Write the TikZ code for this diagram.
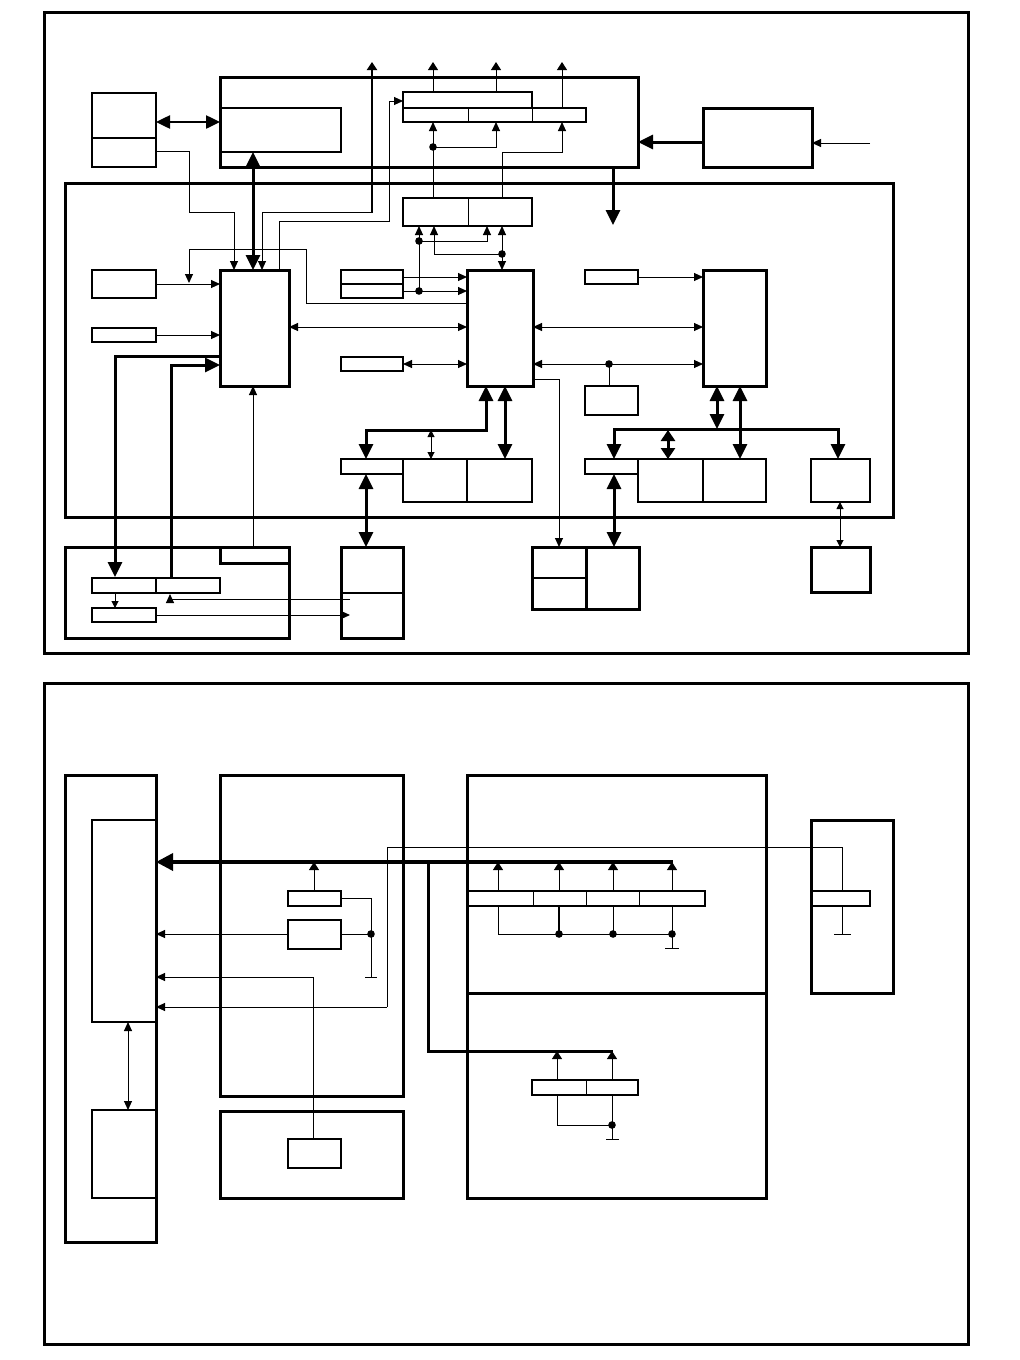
\documentclass[tikz,border=0pt]{standalone}
\usetikzlibrary{arrows.meta,fit}
\tikzset{
  thk/.style={line width=3pt},
  med/.style={line width=2pt},
  mdl/.style={line width=1.4pt},
  thn/.style={line width=1pt},
  ta/.style={-{Triangle[length=9pt,width=8pt]},line width=1pt},
  tab/.style={{Triangle[length=9pt,width=8pt]}-{Triangle[length=9pt,width=8pt]},line width=1pt},
  sab/.style={{Triangle[length=7pt,width=7pt]}-{Triangle[length=7pt,width=7pt]},line width=1pt},
  sa/.style={-{Triangle[length=7pt,width=7pt]},line width=1pt},
  ua/.style={-{Triangle[length=8pt,width=10pt]},line width=1pt},
  ba/.style={-{Triangle[length=15pt,width=14pt]},line width=3pt},
  bab/.style={{Triangle[length=15pt,width=14pt]}-{Triangle[length=15pt,width=14pt]},line width=3pt},
  mab/.style={{Triangle[length=14pt,width=13pt]}-{Triangle[length=14pt,width=13pt]},line width=2.5pt},
  dab/.style={{Triangle[length=11pt,width=14pt]}-{Triangle[length=11pt,width=14pt]},line width=3pt},
  hba/.style={-{Triangle[length=17pt,width=17pt]},line width=3.5pt},
}
\newcommand\bx[6][]{\node[draw,inner sep=0pt,outer sep=0pt,fit={(#3,#4) (#5,#6)},#1] (#2) {};}
\newcommand\jdot[2]{\fill (#1,#2) circle (3.8pt);}
\begin{document}
\begin{tikzpicture}[x=1pt,y=-1pt,line join=miter]
\useasboundingbox (0,0) rectangle (1020,1360);
% frames
\draw[thk] (44,12) rectangle (968,653);
\draw[thk] (44,683) rectangle (968,1344);

% ================= TOP DIAGRAM =================
\bx[med]{A}{92}{93}{156}{167}
\draw[med] (A.west |- 0,138) -- (A.east |- 0,138);
\bx[thk]{B}{220}{77}{638}{167}
\bx[med]{Bin}{220}{108}{341}{152}
\bx[thk]{S}{65}{183}{893}{517}
\bx[thk]{I}{703}{108}{812}{167}
% register in B
\bx[mdl]{R1}{403}{92}{532}{108}
\bx[mdl]{R2}{403}{108}{586}{122}
\draw[med] (403,108) -- (586,108);
\draw[thn] (468,108) -- (468,122);
\draw[thn] (532,108) -- (532,122);
% D
\bx[mdl]{D}{403}{198}{532}{226}
\draw[med] (403,226) -- (532,226);
\draw[thn] (468,198) -- (468,226);
% main blocks
\bx[thk]{C}{220}{270}{289}{386}
\bx[thk]{E}{467}{270}{533}{386}
\bx[thk]{F}{703}{270}{766}{386}
\bx[med]{L1}{92}{270}{156}{298}
\bx[med]{L2}{92}{328}{156}{342}
\bx[mdl]{M1}{341}{270}{403}{284}
\bx[mdl]{M2}{341}{284}{403}{298}
\bx[med]{M3}{341}{357}{403}{371}
\bx[mdl]{P1}{585}{270}{638}{284}
\bx[mdl]{J}{585}{386}{638}{415}
% lower registers in S
\bx[mdl]{BL1}{341}{459}{403}{474}
\bx[mdl]{BL2}{403}{459}{467}{502}
\bx[mdl]{BL3}{467}{459}{532}{502}
\bx[mdl]{BR1}{585}{459}{638}{474}
\bx[mdl]{BR2}{638}{459}{703}{502}
\bx[mdl]{BR3}{703}{459}{766}{502}
\bx[med]{Lb}{811}{459}{870}{502}
% bottom row
\bx[thk]{G}{65}{547}{289}{638}
\draw[thk] (220,547) -- (220,563) -- (289,563);
\bx[med]{G1}{92}{578}{156}{593}
\bx[med]{G2}{156}{578}{220}{593}
\bx[med]{G3}{92}{608}{156}{622}
\bx[thk]{H}{341}{547}{403}{638}
\draw[med] (341,593) -- (403,593);
\bx[thk]{K}{532}{547}{639}{609}
\draw[thk] (586,547) -- (586,609);
\draw[med] (532,578) -- (586,578);
\bx[thk]{Mb}{811}{547}{870}{592}

% connectors top
\draw[mab] (A.east |- 0,122) -- (Bin.west |- 0,122);
\draw[ta] (156,151) -- (189,151) -- (189,212) -- (234,212) -- (234,270);
\draw[bab] (253,152) -- (253,270);
\draw[ta] (372,212) -- (262,212) -- (262,270);
\draw[ua,line width=2pt] (372,213) -- (372,62);
\draw[ta] (279,270) -- (279,221) -- (389,221) -- (389,101) -- (403,101);
\draw[ua] (433,92) -- (433,62);
\draw[ua] (496,92) -- (496,62);
\draw[ua] (562,108) -- (562,62);
\draw[ta] (433,198) -- (433,122);
\jdot{433}{147}
\draw[ta] (433,147) -- (496,147) -- (496,122);
\draw[ta] (502,198) -- (502,152) -- (562,152) -- (562,122);
\draw[ta] (419,291) -- (419,226);
\jdot{419}{241}
\draw[ta] (419,241) -- (487,241) -- (487,226);
\draw[ta] (502,254) -- (434,254) -- (434,226);
\draw[tab] (502,226) -- (502,270);
\jdot{502}{254}
\draw[ta] (403,277) -- (467,277);
\draw[ta] (403,291) -- (467,291);
\jdot{419}{291}
\draw[tab] (403,364) -- (467,364);
\draw[ta] (156,284) -- (220,284);
\draw[ta] (156,335) -- (220,335);
\draw[ta] (467,303) -- (306,303) -- (306,249) -- (189,249) -- (189,283);
\draw[tab] (289,327) -- (467,327);
\draw[ba] (220,356) -- (115,356) -- (115,577);
\draw[ba] (171,578) -- (171,365) -- (220,365);
\draw[ta] (253,547) -- (253,386);
\draw[sa] (115,593) -- (115,608);
\draw[ta] (350,599) -- (170,599) -- (170,594);
\draw[ta] (156,615) -- (350,615);
\draw[ba] (613,167) -- (613,225);
\draw[ba] (703,142) -- (638,142);
\draw[ta] (870,143) -- (812,143);
\draw[ta] (638,277) -- (703,277);
\draw[tab] (533,327) -- (703,327);
\jdot{609}{364}
\draw[ta] (609,364) -- (533,364);
\draw[ta] (609,364) -- (703,364);
\draw[thn] (609,364) -- (609,386);
\draw[ta] (533,379) -- (559,379) -- (559,547);
\draw[bab] (486,386) -- (486,430) -- (366,430) -- (366,459);
\draw[bab] (505,386) -- (505,459);
\draw[sab] (431,430) -- (431,459);
\draw[bab] (366,474) -- (366,547);
\draw[ba] (717,429) -- (614,429) -- (614,459);
\draw[ba] (717,429) -- (838,429) -- (838,459);
\draw[bab] (717,386) -- (717,429);
\draw[bab] (740,386) -- (740,459);
\draw[dab] (668,430) -- (668,459);
\draw[bab] (614,474) -- (614,547);
\draw[sab] (840,502) -- (840,547);

% ================= BOTTOM DIAGRAM =================
\bx[thk]{N1}{65}{775}{156}{1242}
\bx[med]{N2}{92}{820}{156}{1022}
\bx[med]{N3}{92}{1110}{156}{1198}
\bx[thk]{O1}{220}{775}{403}{1096}
\bx[thk]{O2}{220}{1111}{403}{1198}
\bx[med]{Os}{288}{1139}{341}{1168}
\bx[med]{Oa}{288}{891}{341}{906}
\bx[med]{Ob}{288}{920}{341}{949}
\bx[thk]{Pu}{467}{775}{766}{993}
\bx[thk]{Pl}{467}{993}{766}{1198}
\bx[med]{PR}{467}{891}{705}{906}
\draw[thn] (533,891) -- (533,906);
\draw[thn] (586,891) -- (586,906);
\draw[thn] (639,891) -- (639,906);
\bx[med]{PR2}{532}{1080}{638}{1095}
\draw[thn] (586,1080) -- (586,1095);
\bx[thk]{Q}{811}{820}{893}{993}
\bx[med]{QR}{811}{891}{870}{906}

\draw[hba] (673,862) -- (156,862);
\draw[ua] (498,891) -- (498,862);
\draw[ua] (559,891) -- (559,862);
\draw[ua] (613,891) -- (613,862);
\draw[ua] (672,891) -- (672,862);
\draw[thn] (498,906) -- (498,934) -- (672,934);
\draw[med] (559,906) -- (559,934);
\draw[thn] (613,906) -- (613,934);
\draw[thn] (672,906) -- (672,948);
\draw[thn] (665,948) -- (679,948);
\jdot{559}{934}
\jdot{613}{934}
\jdot{672}{934}
\draw[thk] (428,862) -- (428,1051) -- (613,1051);
\draw[ua] (557,1080) -- (557,1051);
\draw[ua] (612,1080) -- (612,1051);
\draw[thn] (557,1095) -- (557,1125) -- (612,1125);
\draw[thn] (612,1095) -- (612,1139);
\jdot{612}{1125}
\draw[thn] (606,1139) -- (619,1139);
\draw[thn] (842,891) -- (842,847) -- (387,847) -- (387,1007);
\draw[ta] (387,1007) -- (156,1007);
\draw[thn] (842,906) -- (842,934);
\draw[thn] (834,934) -- (851,934);
\draw[ua] (314,891) -- (314,862);
\draw[ta] (288,934) -- (156,934);
\draw[thn] (341,934) -- (371,934);
\draw[thn] (341,898) -- (371,898) -- (371,977);
\jdot{371}{934}
\draw[thn] (365,977) -- (377,977);
\draw[ta] (313,1139) -- (313,977) -- (156,977);
\draw[tab] (128,1022) -- (128,1110);
\end{tikzpicture}
\end{document}
